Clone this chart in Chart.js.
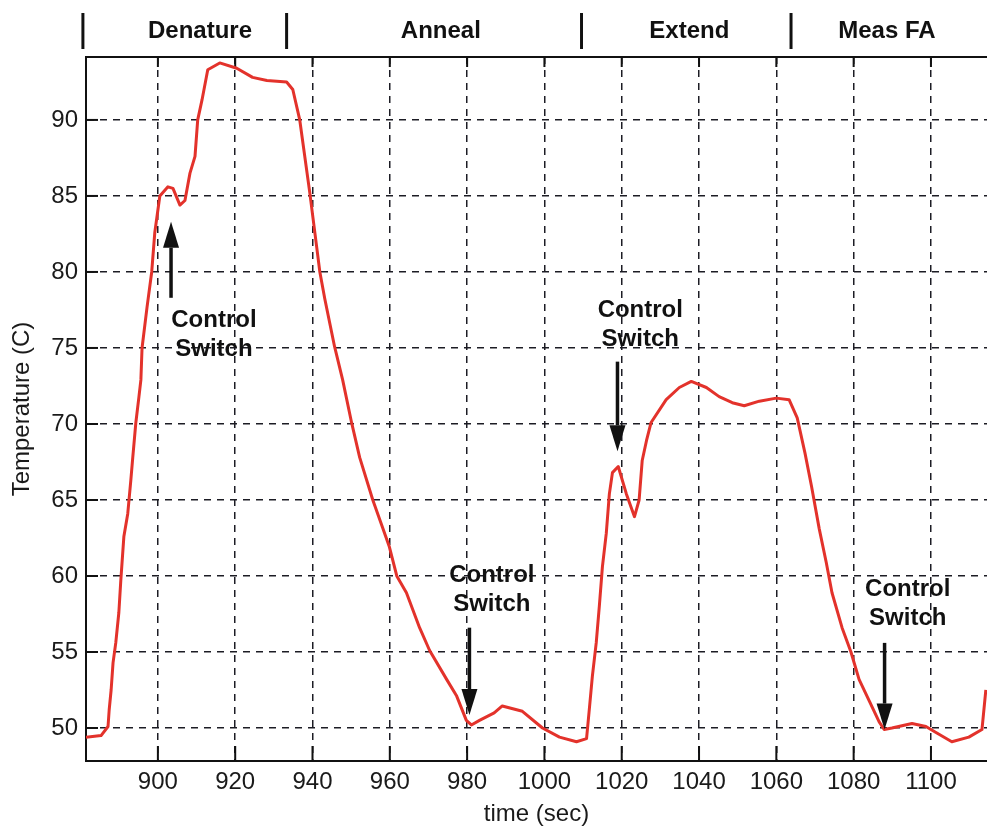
<!DOCTYPE html>
<html><head><meta charset="utf-8">
<script src="https://cdn.jsdelivr.net/npm/chart.js@4/dist/chart.umd.min.js"></script>
<style>html,body{margin:0;padding:0;background:#fff;}canvas{display:block}</style>
</head><body>
<canvas id="c" width="987" height="829"></canvas>
<script>
// time (sec)
const times = [881.4,885.3,887.1,887.4,887.9,888.4,889.1,889.9,890.4,891.2,892.2,893.0,893.5,894.3,895.1,895.6,895.9,897.2,898.4,899.2,900.5,902.6,903.9,905.7,907.0,908.3,909.6,910.3,911.4,912.9,916.0,920.4,924.5,928.2,933.3,934.9,936.7,939.3,941.1,941.9,943.2,945.7,947.8,950.1,952.2,955.6,958.1,959.9,961.8,964.3,967.7,970.3,974.7,977.3,979.8,981.1,983.2,987.0,989.1,994.3,999.5,1003.9,1008.3,1010.9,1011.6,1012.4,1013.4,1014.2,1015.0,1016.0,1016.8,1017.6,1019.1,1021.2,1023.3,1024.5,1025.3,1026.4,1027.6,1031.5,1034.9,1038.0,1041.9,1045.2,1048.6,1051.7,1055.6,1060.0,1063.3,1065.4,1067.4,1069.1,1071.1,1072.9,1074.4,1077.0,1079.3,1081.4,1084.0,1086.6,1087.9,1089.9,1095.1,1098.7,1101.3,1105.4,1109.8,1113.2,1114.2];
// Temperature (C)
const temps = [49.4,49.5,50.1,51.2,52.5,54.3,55.6,57.6,59.7,62.6,64.1,66.3,67.8,70.1,71.8,72.9,75.0,77.7,80.0,82.6,85.0,85.6,85.5,84.4,84.7,86.5,87.6,90.0,91.3,93.3,93.75,93.4,92.8,92.6,92.5,92.0,90.0,85.2,81.6,80.0,78.2,75.1,72.9,70.1,67.8,65.0,63.2,61.9,60.0,58.9,56.6,55.1,53.2,52.1,50.5,50.2,50.5,51.0,51.45,51.1,50.0,49.4,49.1,49.3,51.2,53.4,55.6,58.0,60.6,62.8,65.4,66.8,67.2,65.4,63.9,65.0,67.6,68.9,70.1,71.6,72.4,72.8,72.4,71.8,71.4,71.2,71.5,71.7,71.6,70.4,68.1,65.9,63.1,60.9,58.9,56.6,55.0,53.2,51.8,50.4,49.9,50.0,50.3,50.1,49.7,49.1,49.4,49.9,52.5];

const xTicks = [900,920,940,960,980,1000,1020,1040,1060,1080,1100];
const yTicks = [50,55,60,65,70,75,80,85,90];

const phaseNames = ['Denature','Anneal','Extend','Meas FA'];
const phaseBounds = [880.6,933.3,1009.6,1063.8];
const phaseLabelX = [910.9,973.2,1037.5,1088.6];

const switchX = [903.4,980.6,1018.9,1088.0];
const arrowTail = [78.3,56.6,74.1,55.6];
const arrowTip = [83.3,50.85,68.2,49.9];
const noteX = [914.5,986.4,1024.8,1094.0];
const noteY = [76.8,60.05,77.5,59.1];
const noteLines = ['Control','Switch'];

const FONT = '"Liberation Sans", Arial, Helvetica, sans-serif';

const deco = {
  id:'deco',
  beforeDatasetsDraw(chart){
    const {ctx, chartArea:a, scales:{x,y}} = chart;
    ctx.save();
    ctx.strokeStyle='#111'; ctx.lineWidth=2; ctx.setLineDash([]);
    ctx.beginPath(); ctx.moveTo(a.left,a.top); ctx.lineTo(a.right,a.top); ctx.stroke();
    xTicks.forEach(v=>{const px=x.getPixelForValue(v);
      ctx.beginPath(); ctx.moveTo(px,a.bottom); ctx.lineTo(px,a.bottom-15);
      ctx.moveTo(px,a.top); ctx.lineTo(px,a.top+10); ctx.stroke();});
    yTicks.forEach(v=>{const py=y.getPixelForValue(v);
      ctx.beginPath(); ctx.moveTo(a.left,py); ctx.lineTo(a.left+12,py); ctx.stroke();});
    ctx.lineWidth=3;
    phaseBounds.forEach(v=>{const px=x.getPixelForValue(v);
      ctx.beginPath(); ctx.moveTo(px,13); ctx.lineTo(px,49); ctx.stroke();});
    ctx.fillStyle='#111'; ctx.font='bold 24px '+FONT; ctx.textAlign='center'; ctx.textBaseline='middle';
    phaseNames.forEach((n,i)=>ctx.fillText(n, x.getPixelForValue(phaseLabelX[i]), 31));
    ctx.restore();
  },
  afterDatasetsDraw(chart){
    const {ctx, scales:{x,y}} = chart;
    ctx.save();
    ctx.strokeStyle='#111'; ctx.fillStyle='#111'; ctx.lineWidth=3.5; ctx.setLineDash([]);
    switchX.forEach((t,i)=>{
      const px=x.getPixelForValue(t), yT=y.getPixelForValue(arrowTail[i]), yP=y.getPixelForValue(arrowTip[i]);
      const dir=Math.sign(yP-yT), hl=26, hw=8;
      ctx.beginPath(); ctx.moveTo(px,yT); ctx.lineTo(px,yP-dir*hl); ctx.stroke();
      ctx.beginPath(); ctx.moveTo(px,yP); ctx.lineTo(px-hw,yP-dir*hl); ctx.lineTo(px+hw,yP-dir*hl); ctx.closePath(); ctx.fill();
    });
    ctx.font='bold 24px '+FONT; ctx.textAlign='center'; ctx.textBaseline='middle';
    noteX.forEach((t,i)=>{
      const px=x.getPixelForValue(t), py=y.getPixelForValue(noteY[i]);
      ctx.fillText(noteLines[0],px,py);
      ctx.fillText(noteLines[1],px,py+29);
    });
    ctx.restore();
  }
};

new Chart(document.getElementById('c'), {
  type:'line',
  data:{datasets:[{
    data: times.map((t,i)=>({x:t,y:temps[i]})),
    borderColor:'#e3322b', borderWidth:3, pointRadius:0, fill:false,
    tension:0, borderJoinStyle:'round'
  }]},
  options:{
    responsive:false, animation:false, devicePixelRatio:1,
    layout:{padding:{top:57,left:0,right:0,bottom:0}},
    plugins:{legend:{display:false}, tooltip:{enabled:false}},
    scales:{
      x:{type:'linear', min:881.4, max:1114.5,
        afterBuildTicks:s=>{s.ticks=xTicks.map(v=>({value:v}));},
        afterFit:s=>{s.height=68;},
        grid:{color:'#1c1c24', lineWidth:1.5, drawTicks:false},
        border:{display:true, color:'#111', width:2, dash:[7,6]},
        ticks:{color:'#1a1a1a', font:{family:FONT, size:24}, padding:7, maxRotation:0, callback:v=>String(v)},
        title:{display:true, text:'time (sec)', color:'#1a1a1a', font:{family:FONT, size:24}, padding:{top:0,bottom:0}}
      },
      y:{type:'linear', min:47.83, max:94.14,
        afterBuildTicks:s=>{s.ticks=yTicks.map(v=>({value:v}));},
        afterFit:s=>{s.width=86;},
        grid:{color:'#1c1c24', lineWidth:1.5, drawTicks:false},
        border:{display:true, color:'#111', width:2, dash:[7,6]},
        ticks:{color:'#1a1a1a', font:{family:FONT, size:24}, padding:8, callback:v=>String(v)},
        title:{display:true, text:'Temperature (C)', color:'#1a1a1a', font:{family:FONT, size:24}, padding:{top:8,bottom:0}}
      }
    }
  },
  plugins:[deco]
});
</script>
</body></html>
